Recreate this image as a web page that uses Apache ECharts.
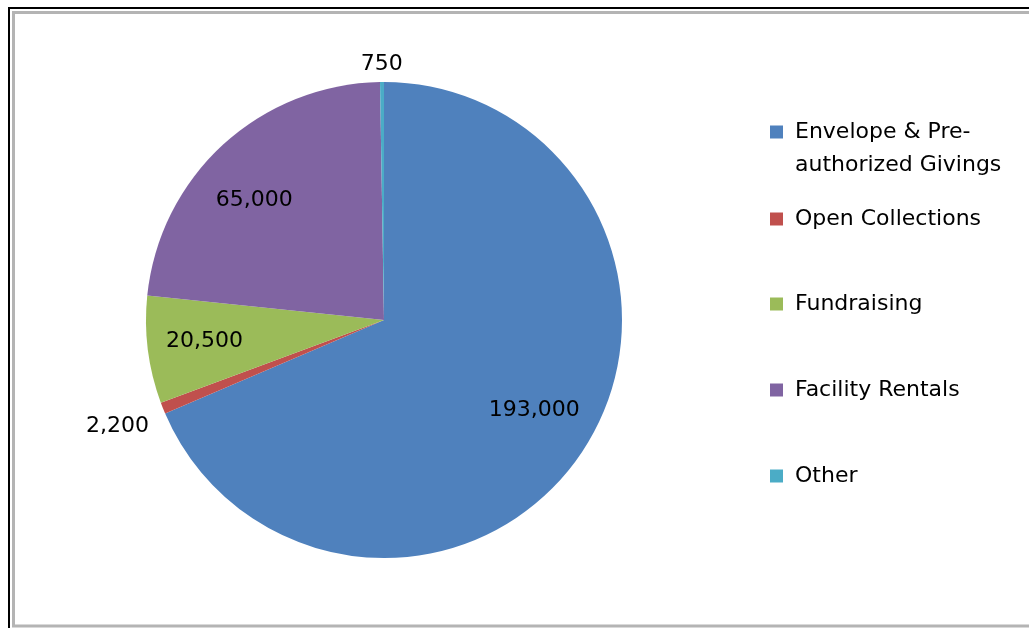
<!DOCTYPE html>
<html>
<head>
<meta charset="utf-8">
<script src="https://cdn.jsdelivr.net/npm/echarts@6/dist/echarts.min.js"></script>
<style>
html,body{margin:0;padding:0;background:#fff;}
#chart{width:1029px;height:628px;}
</style>
</head>
<body>
<div id="chart"></div>
<script>
const categories = ['Envelope & Pre-authorized Givings', 'Open Collections', 'Fundraising', 'Facility Rentals', 'Other'];
const legendLabels = ['\nEnvelope & Pre-\nauthorized Givings', 'Open Collections', 'Fundraising', 'Facility Rentals', 'Other'];
const values = [193000, 2200, 20500, 65000, 750];
const colors = ['#4F81BD', '#C0504D', '#9BBB59', '#8064A2', '#4BACC6'];

const FONT = "'DejaVu Sans', sans-serif";
const CENTER = [384, 320];
const R = 238;

// small nudges of inside labels (Excel does not centre them exactly on the mid-angle)
const labelNudge = { 0: [0, -9], 3: [-8, 13], 2: [-1, -1] };

function fmt(v) { return v.toLocaleString('en-US'); }

function pieData(showIdx) {
  return categories.map((c, i) => ({
    name: c,
    value: values[i],
    label: { show: showIdx.indexOf(i) >= 0 }
  }));
}

function helper(radius, showIdx, nudge) {
  const s = {
    type: 'pie',
    center: CENTER,
    radius: radius,
    startAngle: 90,
    clockwise: true,
    silent: true,
    avoidLabelOverlap: false,
    emphasis: { disabled: true },
    itemStyle: { color: 'rgba(0,0,0,0)', borderWidth: 0 },
    label: {
      position: 'inside',
      formatter: p => fmt(p.value),
      color: '#000',
      fontFamily: FONT,
      fontSize: 22
    },
    labelLine: { show: false },
    data: pieData(showIdx)
  };
  if (nudge) {
    s.labelLayout = p => {
      const n = nudge[p.dataIndex];
      return n ? { dx: n[0], dy: n[1] } : {};
    };
  }
  return s;
}

const legendTops = [82.5, 202.5, 287.5, 373.5, 459.5];
const legends = categories.map((c, i) => ({
  orient: 'vertical',
  left: 770,
  top: legendTops[i],
  padding: 0,
  itemWidth: 13,
  itemHeight: 13,
  icon: 'rect',
  selectedMode: false,
  data: [c],
  formatter: () => legendLabels[i],
  textStyle: {
    fontFamily: FONT,
    fontSize: 22,
    color: '#000',
    lineHeight: 33,
    padding: [0, 0, 0, 7]
  }
}));

const chart = echarts.init(document.getElementById('chart'), null, { renderer: 'canvas' });
chart.setOption({
  animation: false,
  backgroundColor: '#fff',
  color: colors,
  legend: legends,
  graphic: [
    { type: 'rect', shape: { x: 9, y: 8, width: 1200, height: 800 }, style: { fill: 'none', stroke: '#000', lineWidth: 2 }, silent: true },
    { type: 'rect', shape: { x: 13.5, y: 12.5, width: 1200, height: 613.5 }, style: { fill: 'none', stroke: '#b4b4b4', lineWidth: 3 }, silent: true }
  ],
  series: [
    {
      type: 'pie',
      center: CENTER,
      radius: R,
      startAngle: 90,
      clockwise: true,
      avoidLabelOverlap: false,
      emphasis: { scale: false },
      itemStyle: { borderWidth: 0 },
      label: { show: false },
      labelLine: { show: false },
      data: categories.map((c, i) => ({ name: c, value: values[i] }))
    },
    helper([116, 238], [0, 2, 3], labelNudge),
    helper([238, 268], [4]),
    helper([238, 330], [1])
  ]
});
</script>
</body>
</html>
